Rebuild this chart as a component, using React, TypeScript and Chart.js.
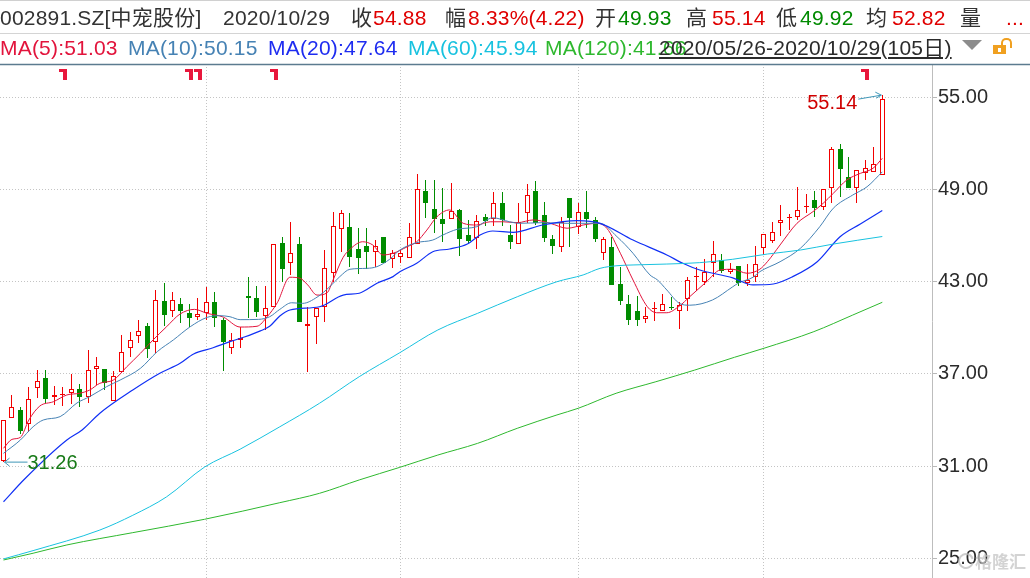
import React, { useEffect, useRef } from 'react';
import { Chart, registerables } from 'chart.js';

Chart.register(...registerables);

// ---------------- data ----------------
const openP = [
  31.30, 34.11, 34.65, 33.72, 36.06, 36.73, 35.52, 35.60, 35.73, 36.02,
  35.47, 37.30, 37.30, 35.21, 37.10, 38.66, 39.47, 40.12, 39.05, 41.74,
  41.07, 41.55, 40.98, 40.68, 40.94, 41.66, 40.51, 38.67, 39.21, 42.07,
  41.92, 40.77, 41.38, 45.50, 44.19, 45.45, 40.12, 40.72, 41.33, 43.59,
  46.41, 46.54, 45.13, 45.32, 44.91, 45.89, 44.46, 44.59, 44.52, 45.45,
  48.90, 47.71, 47.06, 47.06, 47.67, 46.04, 45.82, 47.19, 47.06, 48.10,
  46.04, 45.45, 47.49, 48.90, 47.34, 45.76, 45.28, 48.43, 46.54, 47.51,
  47.02, 44.85, 45.24, 42.83, 41.55, 41.09, 40.55, 41.20, 41.12, 41.33,
  41.12, 41.85, 43.28, 43.00, 44.19, 44.41, 43.65, 44.02, 42.89, 43.28,
  45.17, 45.67, 46.80, 47.12, 47.19, 47.84, 48.32, 47.84, 49.08, 51.61,
  49.79, 49.08, 50.10, 50.16, 49.93,
];
const highP = [
  34.00, 35.63, 34.87, 36.13, 37.25, 37.25, 36.21, 36.17, 36.99, 36.32,
  38.55, 38.08, 37.32, 37.21, 39.53, 39.75, 40.51, 40.33, 42.46, 42.94,
  42.35, 41.92, 41.55, 41.92, 42.68, 42.31, 40.66, 39.68, 40.07, 43.33,
  42.72, 42.72, 45.45, 45.93, 46.90, 45.93, 41.33, 41.31, 45.06, 47.54,
  47.67, 47.49, 46.47, 46.47, 45.71, 45.89, 45.06, 45.06, 46.84, 50.01,
  49.62, 49.62, 49.08, 49.45, 47.71, 47.02, 47.34, 47.41, 48.86, 48.86,
  46.69, 48.10, 49.36, 49.55, 48.17, 46.04, 47.23, 48.43, 48.10, 48.90,
  47.19, 45.93, 45.93, 43.98, 42.13, 42.07, 41.38, 41.66, 42.18, 41.98,
  41.70, 43.28, 43.98, 44.46, 45.65, 44.78, 44.24, 44.02, 44.13, 45.32,
  46.10, 46.91, 47.99, 47.41, 49.14, 48.71, 48.90, 49.01, 51.79, 51.96,
  51.09, 50.27, 50.92, 51.74, 55.14,
];
const lowP = [
  31.26, 34.11, 33.09, 33.24, 35.41, 35.08, 34.98, 34.90, 35.04, 34.82,
  35.13, 36.28, 35.95, 35.21, 37.10, 38.12, 39.03, 38.05, 38.38, 40.12,
  40.72, 40.33, 40.03, 40.51, 40.51, 40.03, 37.21, 38.28, 38.67, 40.66,
  40.68, 39.86, 41.38, 43.00, 43.44, 40.40, 37.15, 38.92, 40.40, 43.00,
  44.95, 43.98, 43.48, 43.80, 43.98, 44.19, 43.87, 44.24, 44.52, 45.45,
  47.17, 46.15, 45.61, 47.06, 44.67, 45.45, 45.13, 46.63, 46.63, 46.63,
  45.13, 45.45, 46.80, 46.69, 45.60, 44.78, 44.95, 45.24, 46.10, 46.47,
  45.60, 44.41, 42.79, 41.48, 40.18, 40.14, 40.34, 40.47, 41.12, 41.16,
  39.90, 41.12, 42.42, 42.79, 43.33, 43.54, 43.48, 42.74, 42.74, 43.00,
  44.74, 45.50, 45.97, 46.36, 47.00, 47.45, 47.23, 47.67, 48.14, 48.53,
  49.08, 48.10, 49.62, 50.16, 49.92,
];
const closeP = [
  34.00, 34.82, 33.30, 35.37, 36.54, 35.39, 35.63, 35.66, 35.99, 35.47,
  37.23, 37.49, 36.43, 36.89, 38.40, 39.18, 39.77, 38.60, 41.79, 40.85,
  41.79, 41.11, 40.66, 40.90, 41.66, 40.66, 39.10, 39.21, 39.36, 41.92,
  41.05, 41.27, 45.45, 43.85, 44.85, 40.40, 40.25, 41.31, 43.87, 46.63,
  47.45, 44.59, 44.56, 44.95, 45.30, 44.19, 44.89, 44.85, 45.89, 49.01,
  48.14, 47.08, 46.75, 47.62, 45.78, 45.65, 46.97, 46.97, 48.10, 47.02,
  45.60, 46.91, 48.64, 46.84, 45.82, 45.35, 46.91, 47.17, 47.51, 47.08,
  45.78, 45.78, 42.79, 41.77, 40.51, 40.51, 40.77, 41.31, 41.53, 41.29,
  41.48, 43.11, 43.37, 43.65, 44.78, 43.70, 43.80, 42.89, 43.11, 44.13,
  46.10, 46.21, 47.01, 47.19, 47.67, 47.88, 47.82, 49.01, 51.61, 50.31,
  49.08, 50.27, 50.38, 50.66, 54.88,
];

// moving averages: [candle index, value]
const ma5 = [
  [0, 32.16], [1, 32.74], [2, 32.87], [3, 34.0], [4.3, 34.91], [5.9, 35.19], [7.5, 35.63], [9, 35.74],
  [10.2, 35.95], [11.4, 36.39], [13, 36.6], [14.6, 37.47], [16.2, 38.34], [17.7, 39.21], [19.3, 40.07],
  [20.9, 40.9], [22.6, 41.2], [24.1, 40.94], [26, 40.7], [28, 40.05], [30, 40.1], [31.2, 40.72],
  [32.4, 41.63], [33.9, 43.29], [35.1, 43.22], [36, 42.79], [37.1, 42.13], [38.3, 42.28], [39, 43.11],
  [40.2, 44.59], [41, 45.11], [42.5, 45.6], [43.7, 45.39], [44.9, 44.74], [46.1, 44.85], [47.8, 45.28],
  [48.9, 45.6], [50.1, 46.36], [51.3, 47.23], [52.8, 47.67], [54.4, 46.8], [56, 46.69], [57.6, 46.9],
  [59.1, 46.9], [60.8, 46.84], [62.7, 47.02], [64.7, 46.8], [66.7, 46.48], [68.6, 46.69], [70.2, 46.8],
  [71.4, 46.48], [73, 44.85], [74.5, 43.11], [76.2, 41.37], [77.3, 40.98], [78.5, 40.98], [80, 41.42],
  [81.2, 42.02], [83.2, 43.0], [84.8, 43.76], [86.3, 43.81], [88, 43.55], [89.5, 43.81], [90.4, 44.3],
  [91.9, 45.39], [93.9, 46.8], [95.8, 47.56], [97, 48.1], [98.2, 48.75], [99.8, 49.62], [101.4, 50.05],
  [102.9, 50.38], [104, 51.03],
];
const ma10 = [
  [0, 31.83], [2, 32.7], [3.5, 33.56], [4.7, 34.0], [6.7, 34.22], [8.7, 35.11], [10.2, 35.52], [12.2, 36.17],
  [13.8, 36.6], [16.2, 37.36], [18.2, 38.45], [20.1, 39.21], [22.1, 40.07], [24.1, 40.68], [25.6, 40.79],
  [26.8, 40.72], [28, 40.53], [30.2, 40.55], [31.5, 40.72], [32.7, 41.2], [34.1, 41.63], [35.4, 41.59],
  [37.1, 41.99], [38.6, 42.67], [39.8, 43.33], [41, 43.81], [43, 43.87], [44.2, 43.98], [45.7, 44.46],
  [46.9, 45.06], [48.9, 45.54], [50.8, 45.71], [52, 46.04], [53.7, 46.41], [56, 46.58], [57.9, 47.16],
  [59.9, 46.9], [61, 46.8], [63.8, 46.84], [66.7, 46.8], [70.6, 46.8], [72.6, 45.93], [74.5, 44.85],
  [76.5, 43.44], [77.4, 43.11], [78.5, 42.46], [80, 41.59], [81.2, 41.47], [83.9, 41.81], [86.3, 42.67],
  [87, 42.92], [88.7, 43.29], [89.5, 43.65], [91.9, 44.3], [94.3, 45.17], [96.6, 46.58], [98.2, 47.78],
  [100.5, 48.64], [102.2, 49.18], [104, 50.15],
];
const ma20 = [
  [0, 28.68], [2.5, 30.16], [7.5, 32.7], [9.3, 33.35], [11.4, 34.44], [15.3, 35.95], [18.5, 37.04],
  [20.9, 37.69], [22.5, 38.3], [24.8, 38.7], [26.8, 39.1], [28.5, 39.4], [30.4, 39.8], [31.5, 40.1],
  [32.7, 40.77], [33.9, 41.16], [37.4, 41.37], [40.2, 42.13], [42.1, 42.25], [44.2, 42.9], [46.1, 43.33],
  [46.9, 43.65], [48.9, 44.2], [50.8, 44.95], [52.8, 45.13], [54.9, 45.45], [56.4, 46.04], [57.9, 46.3],
  [60.3, 46.21], [63.8, 46.69], [67.9, 46.97], [70.6, 46.8], [74.5, 45.71], [78.5, 44.74], [80.4, 44.2],
  [82.4, 43.76], [86.3, 43.25], [88.7, 42.79], [91.1, 42.85], [93.4, 43.33], [96.3, 44.3], [99, 45.93],
  [101.4, 46.76], [104, 47.64],
];
const ma60 = [
  [0, 24.96], [3.5, 25.5], [11.4, 26.84], [15.3, 27.8], [19.3, 29.0], [23.8, 30.94], [28, 32.1],
  [32.7, 33.56], [37.4, 35.09], [42.1, 36.82], [46.9, 38.38], [51.4, 39.86], [56.1, 40.94],
  [60.8, 42.02], [65.5, 43.0], [68.6, 43.44], [70.6, 43.87], [72.6, 44.04], [74.5, 44.09], [78.5, 44.15],
  [82.4, 44.24], [86.3, 44.46], [90.4, 44.8], [94.3, 45.06], [98.2, 45.45], [104, 45.94],
];
const ma120 = [
  [0, 24.89], [3.5, 25.33], [7.5, 25.87], [15.3, 26.67], [23.8, 27.54], [32.7, 28.62], [37.4, 29.23],
  [42.1, 30.1], [46.9, 30.92], [51.4, 31.72], [56.1, 32.48], [60.8, 33.46], [65.5, 34.33], [68, 34.76],
  [72.5, 35.74], [77.2, 36.49], [81.8, 37.25], [86.5, 38.08], [90, 38.67], [95.9, 39.75], [100.5, 40.83],
  [104, 41.66],
];

const yTicks = [25, 31, 37, 43, 49, 55];
const monthStartIdx = [24, 47, 68, 90]; // 07/01, 08/03, 09/01, 10/09
const flagIdx = [7, 22, 23, 32, 102];
const highMarkIdx = 104;
const highMarkVal = 55.14;
const lowMarkIdx = 0;
const lowMarkVal = 31.26;

const headerRow1 = [
  { t: '002891.SZ[中宠股份]', x: 0, c: '#333333' },
  { t: '2020/10/29', x: 223, c: '#333333' },
  { t: '收', x: 351, c: '#333333' },
  { t: '54.88', x: 373, c: '#e00000' },
  { t: '幅', x: 445, c: '#333333' },
  { t: '8.33%(4.22)', x: 468, c: '#e00000' },
  { t: '开', x: 595, c: '#333333' },
  { t: '49.93', x: 618, c: '#008a00' },
  { t: '高', x: 686, c: '#333333' },
  { t: '55.14', x: 712, c: '#e00000' },
  { t: '低', x: 776, c: '#333333' },
  { t: '49.92', x: 800, c: '#008a00' },
  { t: '均', x: 866, c: '#333333' },
  { t: '52.82', x: 892, c: '#e00000' },
  { t: '量', x: 960, c: '#333333' },
  { t: '...', x: 1006, c: '#e00000' },
];
const headerRow2 = [
  { t: 'MA(5):51.03', x: 0, c: '#e2143c' },
  { t: 'MA(10):50.15', x: 128, c: '#4682b4' },
  { t: 'MA(20):47.64', x: 268, c: '#1e2cf0' },
  { t: 'MA(60):45.94', x: 408, c: '#18c2df' },
  { t: 'MA(120):41.66', x: 545, c: '#2eb82e' },
];
const rangeLabel = '2020/05/26-2020/10/29(105日)';

// ---------------- styling constants ----------------
const FONT = '"Liberation Sans", Arial, "Noto Sans CJK SC", sans-serif';
const W = 1030;
const H = 578;
const PLOT_TOP = 64;
const AXIS_W = 98;
const STEP_PX = 8.45;
const FIRST_X = 3.5;
const X_MIN = -FIRST_X / STEP_PX;
const X_MAX = X_MIN + (W - AXIS_W) / STEP_PX;
const PX_PER_UNIT = 15.367;
const Y_MAX = 55 + (97.3 - PLOT_TOP) / PX_PER_UNIT;
const Y_MIN = Y_MAX - (H - PLOT_TOP) / PX_PER_UNIT;

const UP = '#f20000';
const DOWN = '#008c00';

// pixel-snap the candle elements so wicks and bodies render crisply
const snapPlugin = {
  id: 'snapCandles',
  beforeDatasetsDraw(chart: any) {
    [0, 1].forEach((di) => {
      const meta = chart.getDatasetMeta(di);
      meta.data.forEach((el: any) => {
        el.x = Math.floor(el.x) + 0.5;
        const y = Math.round(el.y);
        const b = Math.round(el.base);
        el.y = y;
        el.base = y === b ? b + 1 : b;
      });
    });
  },
};

const overlayPlugin = {
  id: 'overlay',
  afterDraw(chart: any) {
    const { ctx, chartArea } = chart;
    const xs = chart.scales.x;
    const ys = chart.scales.y;
    ctx.save();
    // top frame line
    ctx.strokeStyle = '#5c7b8f';
    ctx.lineWidth = 1.5;
    ctx.beginPath();
    ctx.moveTo(0, chartArea.top + 0.5);
    ctx.lineTo(chart.width, chartArea.top + 0.5);
    ctx.stroke();

    // red flags
    ctx.fillStyle = '#e8173c';
    flagIdx.forEach((i) => {
      const px = Math.round(xs.getPixelForValue(i));
      ctx.fillRect(px - 4, chartArea.top + 5, 8, 3);
      ctx.fillRect(px, chartArea.top + 5, 4, 11);
    });

    // high marker
    const hx = xs.getPixelForValue(highMarkIdx);
    const hy = ys.getPixelForValue(highMarkVal);
    ctx.strokeStyle = '#3f97b8';
    ctx.lineWidth = 1;
    ctx.beginPath();
    ctx.moveTo(hx - 24, hy + 4);
    ctx.lineTo(hx - 1, hy);
    ctx.stroke();
    ctx.beginPath();
    ctx.moveTo(hx - 7, hy - 3);
    ctx.lineTo(hx - 1, hy);
    ctx.lineTo(hx - 6, hy + 3);
    ctx.stroke();
    ctx.fillStyle = '#d00000';
    ctx.font = '20px ' + FONT;
    ctx.textAlign = 'right';
    ctx.textBaseline = 'middle';
    ctx.fillText(highMarkVal.toFixed(2), hx - 25, hy + 8);

    // low marker
    const lx = xs.getPixelForValue(lowMarkIdx);
    const ly = ys.getPixelForValue(lowMarkVal);
    ctx.strokeStyle = '#3f97b8';
    ctx.beginPath();
    ctx.moveTo(lx + 24, ly);
    ctx.lineTo(lx + 1, ly);
    ctx.stroke();
    ctx.beginPath();
    ctx.moveTo(lx + 6, ly - 4);
    ctx.lineTo(lx + 1, ly);
    ctx.lineTo(lx + 6, ly + 4);
    ctx.stroke();
    ctx.fillStyle = '#187a18';
    ctx.textAlign = 'left';
    ctx.fillText(lowMarkVal.toFixed(2), lx + 24, ly + 1);

    // watermark
    ctx.globalAlpha = 0.75;
    ctx.strokeStyle = '#bdbdbd';
    ctx.lineWidth = 2;
    ctx.beginPath();
    ctx.arc(966, 561, 7, 0.3, Math.PI * 1.9);
    ctx.stroke();
    ctx.fillStyle = '#c4c4c4';
    ctx.font = 'bold 17px "Noto Sans CJK SC", sans-serif';
    ctx.textAlign = 'left';
    ctx.fillText('格隆汇', 975, 562);
    ctx.restore();
  },
};

export default function App() {
  const canvasRef = useRef<HTMLCanvasElement | null>(null);

  useEffect(() => {
    const canvas = canvasRef.current;
    if (!canvas) return;
    Chart.defaults.font.family = FONT;
    const idx = openP.map((_, i) => i);
    const up = idx.map((i) => closeP[i] >= openP[i]);
    const lineDs = (pts: number[][], color: string, width = 1) => ({
      type: 'line' as const,
      data: pts.map(([x, y]) => ({ x, y })),
      borderColor: color,
      borderWidth: width,
      pointRadius: 0,
      cubicInterpolationMode: 'monotone',
      fill: false,
      order: 0,
    });
    const chart = new Chart(canvas, {
      type: 'bar',
      data: {
        datasets: [
          {
            type: 'bar',
            data: idx.map((i) => ({ x: i, y: [lowP[i], highP[i]] })) as any,
            backgroundColor: idx.map((i) => (up[i] ? UP : DOWN)),
            borderWidth: 0,
            barThickness: 1,
            grouped: false,
            inflateAmount: 0,
            order: 3,
          } as any,
          {
            type: 'bar',
            data: idx.map((i) => ({ x: i, y: [openP[i], closeP[i]] })) as any,
            backgroundColor: idx.map((i) => (up[i] ? '#ffffff' : DOWN)),
            borderColor: idx.map((i) => (up[i] ? UP : DOWN)),
            borderWidth: 1,
            borderSkipped: false,
            barThickness: 5,
            minBarLength: 1,
            grouped: false,
            inflateAmount: 0,
            order: 2,
          } as any,
          lineDs(ma120, '#2eb82e'),
          lineDs(ma60, '#18c2df'),
          lineDs(ma20, '#1030f5', 1.2),
          lineDs(ma10, '#4682b4'),
          lineDs(ma5, '#e2143c'),
        ] as any,
      },
      options: {
        animation: false,
        responsive: false,
        maintainAspectRatio: false,
        devicePixelRatio: 1,
        events: [],
        layout: { padding: { top: PLOT_TOP, left: 0, right: 0, bottom: 0 } },
        plugins: { legend: { display: false }, tooltip: { enabled: false }, title: { display: false } },
        scales: {
          x: {
            type: 'linear',
            min: X_MIN,
            max: X_MAX,
            offset: false,
            afterBuildTicks: (s: any) => {
              s.ticks = monthStartIdx.map((v) => ({ value: v }));
            },
            afterFit: (s: any) => {
              s.height = 0;
              s.paddingLeft = 0;
              s.paddingRight = 0;
            },
            ticks: { display: false },
            grid: { offset: false, color: '#c4c4c4', drawTicks: false, lineWidth: 1 },
            border: { display: false, dash: [1, 2] },
          },
          y: {
            type: 'linear',
            position: 'right',
            min: Y_MIN,
            max: Y_MAX,
            beginAtZero: false,
            afterBuildTicks: (s: any) => {
              s.ticks = yTicks.map((v) => ({ value: v }));
            },
            afterFit: (s: any) => {
              s.width = AXIS_W;
              s.paddingTop = 0;
              s.paddingBottom = 0;
            },
            ticks: {
              callback: (v: any) => Number(v).toFixed(2),
              color: '#2b2b2b',
              font: { family: FONT, size: 20 },
              padding: 1,
            },
            grid: { color: '#c4c4c4', tickLength: 5, tickColor: '#b8b8b8', tickWidth: 1, lineWidth: 1 },
            border: { display: true, color: '#bdbdbd', width: 1, dash: [1, 2] },
          },
        },
      },
      plugins: [snapPlugin, overlayPlugin],
    } as any);
    return () => chart.destroy();
  }, []);

  const rowStyle = (x: number, top: number, size: number, color: string): React.CSSProperties => ({
    position: 'absolute',
    left: x,
    top,
    fontSize: size,
    lineHeight: size + 'px',
    color,
    whiteSpace: 'nowrap',
    fontFamily: FONT,
    letterSpacing: '0.2px',
  });

  return (
    <div style={{ position: 'fixed', left: 0, top: 0, width: W, height: H, background: '#ffffff', overflow: 'hidden' }}>
      <canvas ref={canvasRef} width={W} height={H} style={{ position: 'absolute', left: 0, top: 0, display: 'block' }} />
      <div style={{ position: 'absolute', left: 0, top: 0, width: W, height: 1, background: '#d0d0d0' }} />
      <div style={{ position: 'absolute', left: 0, top: 33, width: W, height: 1, background: '#d4d4d4' }} />
      {headerRow1.map((s, i) => (
        <span key={'r1' + i} style={rowStyle(s.x, 7, 21, s.c)}>{s.t}</span>
      ))}
      {headerRow2.map((s, i) => (
        <span key={'r2' + i} style={rowStyle(s.x, 36.5, 21, s.c)}>{s.t}</span>
      ))}
      <span style={{ ...rowStyle(659, 36.5, 21, '#2b2b2b'), textDecoration: 'underline' }}>{rangeLabel}</span>
      <div
        style={{
          position: 'absolute', left: 962, top: 40, width: 0, height: 0,
          borderLeft: '10px solid transparent', borderRight: '10px solid transparent', borderTop: '10px solid #8c8c8c',
        }}
      />
      <div style={{ position: 'absolute', left: 1001, top: 38, width: 7, height: 8, border: '2px solid #f0a020', borderBottom: 'none', borderRadius: '5px 5px 0 0' }} />
      <div style={{ position: 'absolute', left: 993, top: 45, width: 13, height: 9, background: '#f0a020' }} />
      <div style={{ position: 'absolute', left: 998, top: 48, width: 3, height: 4, background: '#ffffff' }} />
    </div>
  );
}
